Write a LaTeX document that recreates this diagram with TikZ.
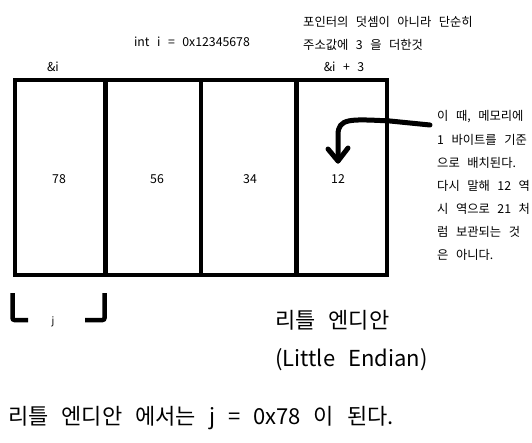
\documentclass[tikz,border=0pt]{standalone}
\usepackage{fontspec}
\setmainfont{Noto Sans CJK KR}
\usetikzlibrary{arrows.meta}
\newcommand\mysmallfont{\fontsize{12.3}{14}\selectfont\spaceskip 7.5pt\relax}
\newcommand\mybigfont{\fontsize{22}{26}\selectfont\spaceskip 13pt\relax}
\begin{document}
\begin{tikzpicture}[x=1pt,y=-1pt,
  small/.style={font={\mysmallfont}, inner sep=0pt},
  big/.style={font={\mybigfont}, inner sep=0pt},
  wall/.style={line width=4.3pt},
  bracket/.style={line width=4.5pt, rounded corners=2pt},
  thickcurve/.style={line width=5pt, line cap=round}]
\useasboundingbox (0,0) rectangle (532,442);
% memory cells
\draw[wall] (15.3,80) rectangle (387,275);
\draw[wall] (105.5,80) -- (105.5,275);
\draw[wall] (201,80) -- (201,275);
\draw[wall] (296.5,80) -- (296.5,275);
\node[small] (b0) at (59,179) {78};
\node[small] (b1) at (157,179) {56};
\node[small] (b2) at (250,179) {34};
\node[small] (b3) at (338,179) {12};
% top labels
\node[small,anchor=west] (t1) at (303,22) {포인터의 덧셈이 아니라 단순히};
\node[small,anchor=west] (t2) at (303,45) {주소값에 3 을 더한것};
\node[small] (ival) at (192,42) {int i = 0x12345678};
\node[small] (ai) at (53,67) {\&i};
\node[small] (ai3) at (344,67) {\&i + 3};
% right note
\node[small,anchor=west] (n1) at (437,117) {이 때, 메모리에};
\node[small,anchor=west] (n2) at (437,140) {1 바이트를 기준};
\node[small,anchor=west] (n3) at (437,163) {으로 배치된다.};
\node[small,anchor=west] (n4) at (437,186) {다시 말해 12 역};
\node[small,anchor=west] (n5) at (437,209) {시 역으로 21 처};
\node[small,anchor=west] (n6) at (437,232) {럼 보관되는 것};
\node[small,anchor=west] (n7) at (437,255) {은 아니다.};
% curved arrow
\coordinate (as) at (430,125);
\coordinate (ae) at (338,161);
\draw[thickcurve] (as) -- (390,121) .. controls (350,119) and (338,118) .. (338,135) -- (ae);
\draw[thickcurve, line join=round] (328,149) -- (ae) -- (348,148);
% bracket j
\draw[bracket] (12.5,293) -- (12.5,320) -- (28,320);
\draw[bracket] (85,320) -- (104.5,320) -- (104.5,293);
\node[font=\fontsize{10}{12}\selectfont, inner sep=0pt] (j) at (53,322) {j};
% big labels
\node[big,anchor=west] (le1) at (275,320) {리틀 엔디안};
\node[big,anchor=west] (le2) at (275,360) {(Little Endian)};
\node[big,anchor=west] (res) at (8,418) {리틀 엔디안 에서는 j = 0x78 이 된다.};
\end{tikzpicture}
\end{document}
